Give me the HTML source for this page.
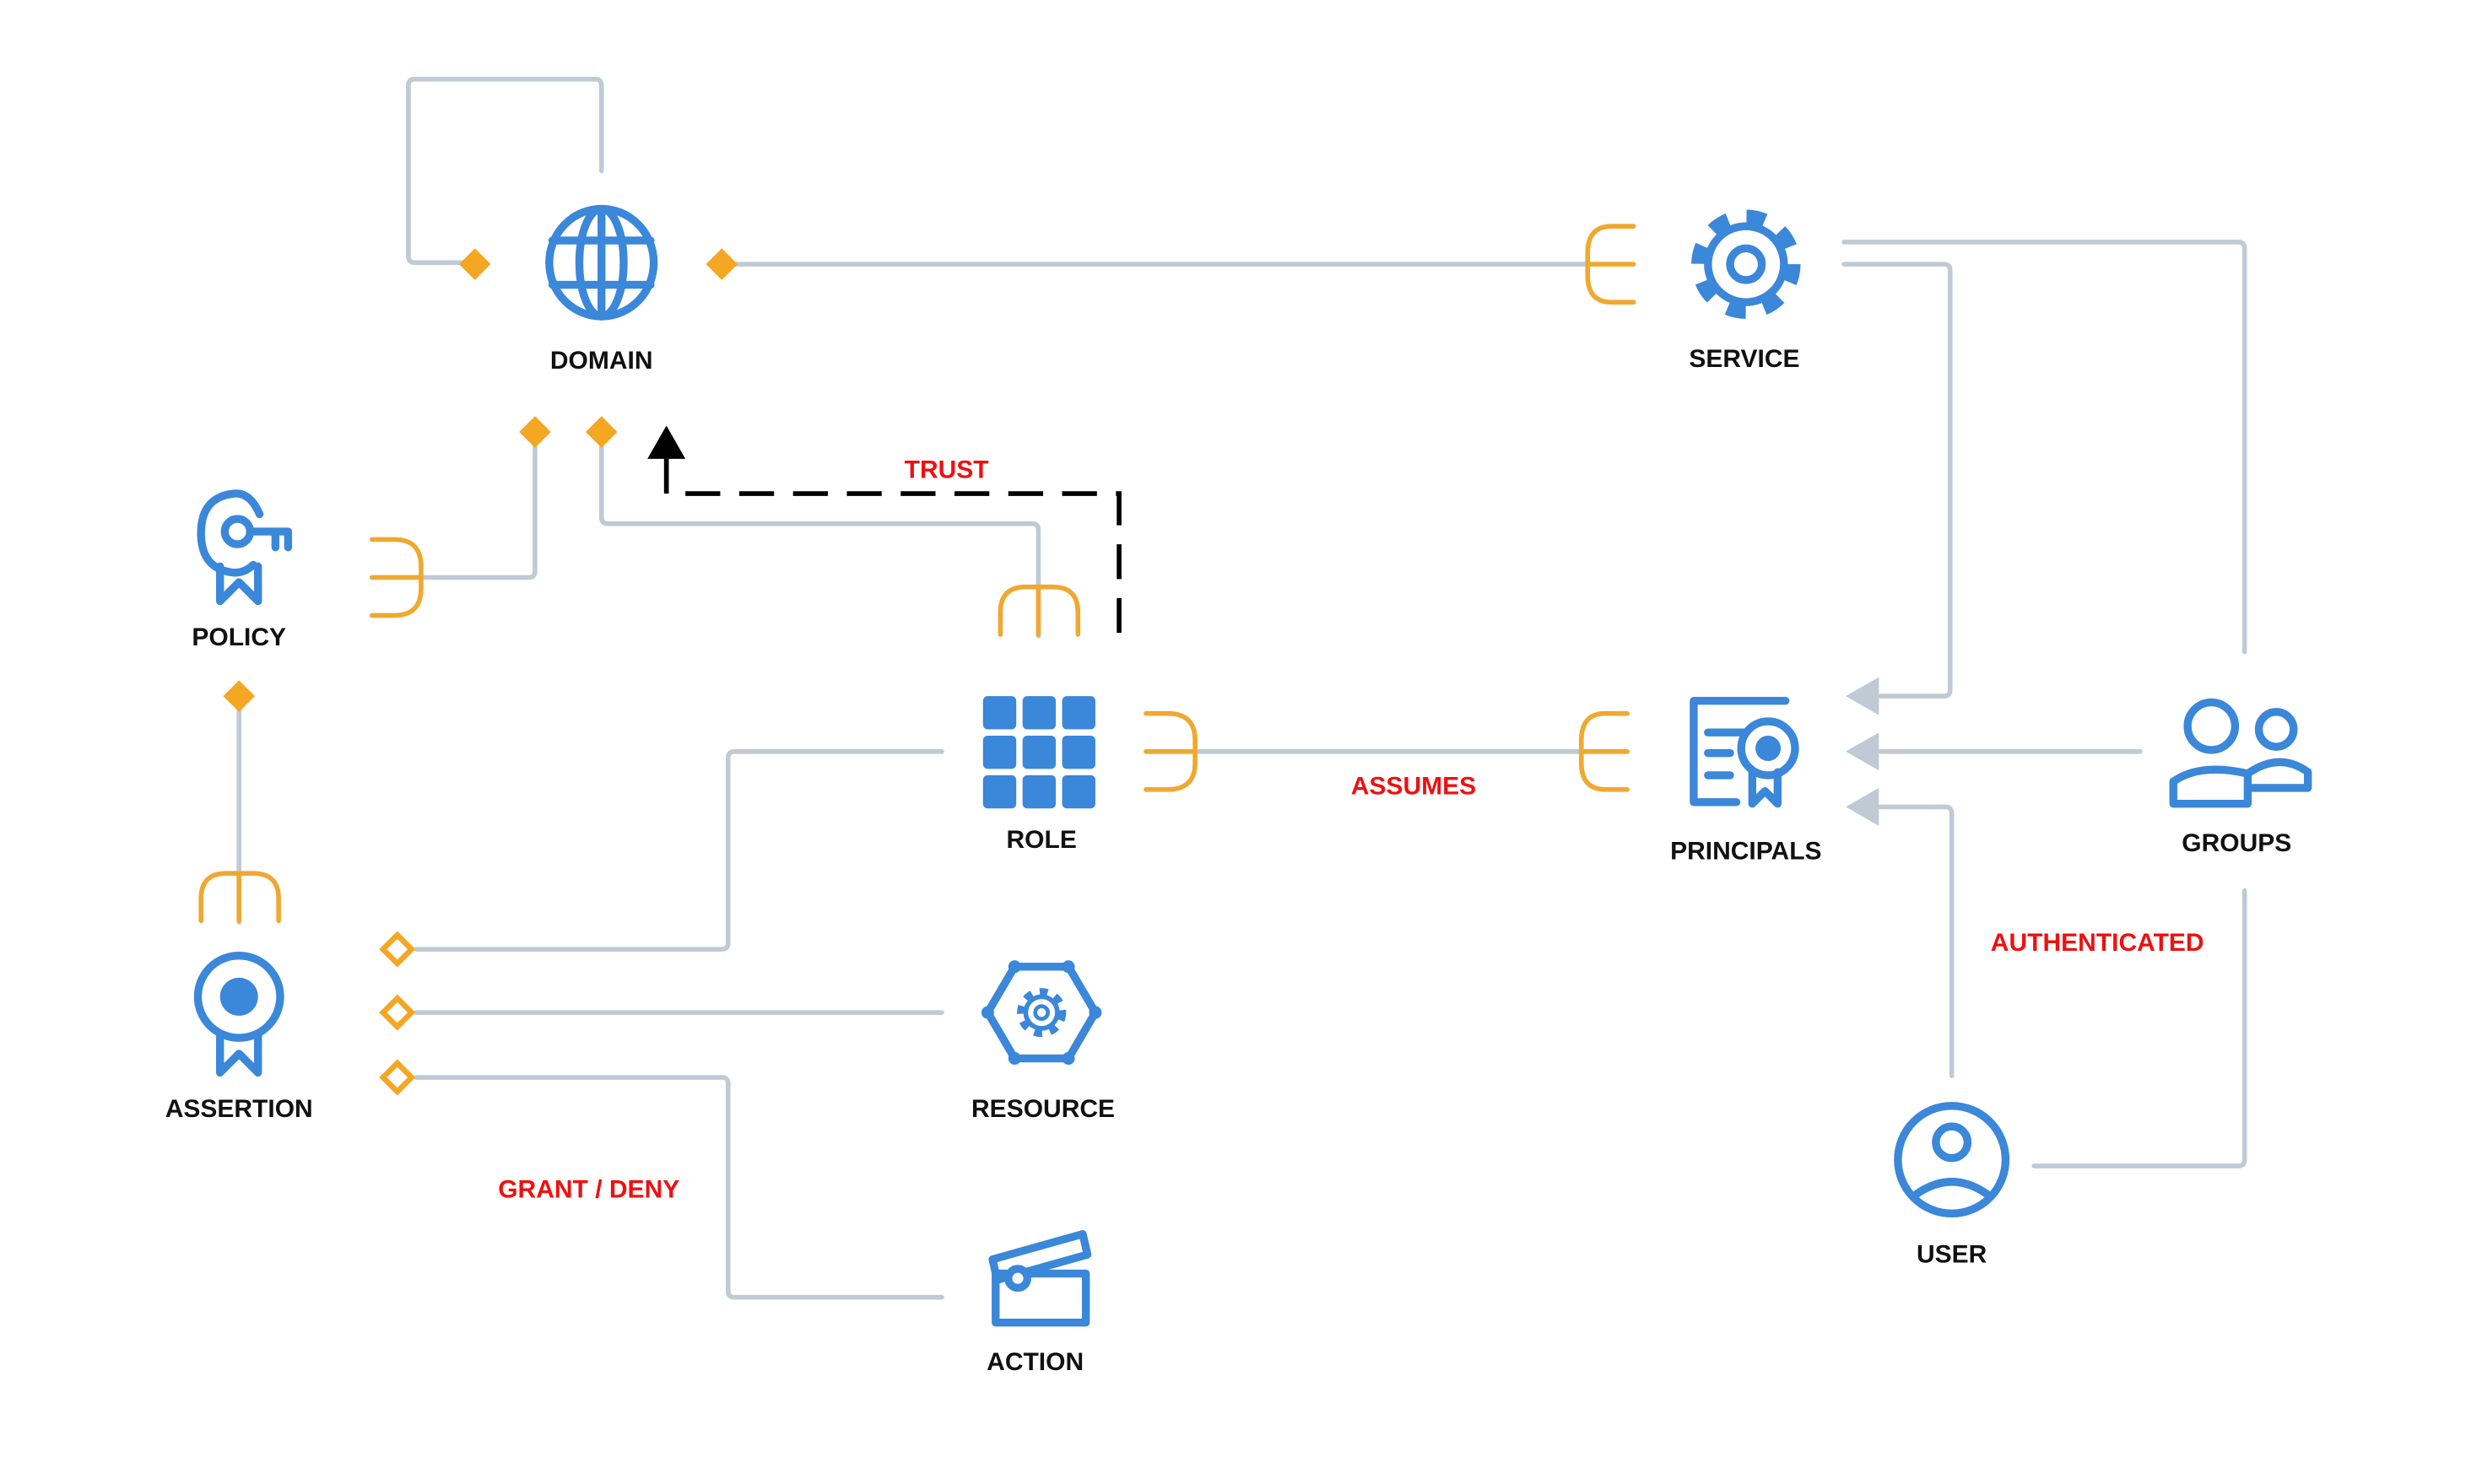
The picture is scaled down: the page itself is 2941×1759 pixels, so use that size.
<!DOCTYPE html>
<html><head><meta charset="utf-8"><style>
html,body{margin:0;padding:0;background:#fff;}
svg{display:block;}
text{font-family:"Liberation Sans",sans-serif;font-weight:bold;font-size:16px;text-anchor:middle;}
.g{fill:none;stroke:#c0cad5;stroke-width:3;stroke-linecap:round;stroke-linejoin:round;}
.o{fill:none;stroke:#f0a830;stroke-width:3;stroke-linecap:round;}
.b{fill:none;stroke:#3b87d9;stroke-width:5;stroke-linecap:round;stroke-linejoin:round;}
.lbl{fill:#111;}
.red{fill:#ee1111;}
</style></head><body>
<svg width="2941" height="1759" viewBox="0 0 1568 938" preserveAspectRatio="none" xmlns="http://www.w3.org/2000/svg">
<path class="g" d="M380 108 V54 Q380 50 376 50 H262 Q258 50 258 54 V162 Q258 166 262 166 H298"/>
<path class="g" d="M458 167 H1003"/>
<path class="g" d="M1165 153 H1414 Q1418 153 1418 157 V412"/>
<path class="g" d="M1165 167 H1228 Q1232 167 1232 171 V436 Q1232 440 1228 440 H1188"/>
<path class="g" d="M1352 475 H1188"/>
<path class="g" d="M1233 680 V514 Q1233 510 1229 510 H1188"/>
<path class="g" d="M1285 737 H1414 Q1418 737 1418 733 V563"/>
<path class="g" d="M756 475 H998"/>
<path class="g" d="M656 402 V335 Q656 331 652 331 H384 Q380 331 380 327 V275"/>
<path class="g" d="M338 275 V361 Q338 365 334 365 H266"/>
<path class="g" d="M151 442 V583"/>
<path class="g" d="M263 600 H456 Q460 600 460 596 V479 Q460 475 464 475 H595"/>
<path class="g" d="M263 640 H595"/>
<path class="g" d="M263 681 H456 Q460 681 460 685 V816 Q460 820 464 820 H595"/>
<polygon points="1166,440 1187,428 1187,452" fill="#c0cad5"/>
<polygon points="1166,475 1187,463 1187,487" fill="#c0cad5"/>
<polygon points="1166,510 1187,498 1187,522" fill="#c0cad5"/>
<path d="M707 400 V312 H421 V290" fill="none" stroke="#000" stroke-width="3" stroke-dasharray="22,12"/>
<polygon points="421,269 409,290 433,290" fill="#000"/>
<g fill="#f5a623">
<polygon points="300,157 310,167 300,177 290,167"/>
<polygon points="456,157 466,167 456,177 446,167"/>
<polygon points="338,263 348,273 338,283 328,273"/>
<polygon points="380,263 390,273 380,283 370,273"/>
<polygon points="151,430 161,440 151,450 141,440"/>
</g>
<g fill="#fff" stroke="#f5a623" stroke-width="3.5">
<polygon points="251,591 260,600 251,609 242,600"/>
<polygon points="251,631 260,640 251,649 242,640"/>
<polygon points="251,672 260,681 251,690 242,681"/>
</g>
<path class="o" d="M1032 143 H1018 Q1003 143 1003 160 V174 Q1003 191 1018 191 H1032 M1003 167 H1032"/>
<path class="o" d="M1028 451 H1014 Q999 451 999 468 V482 Q999 499 1014 499 H1028 M999 475 H1028"/>
<path class="o" d="M724 451 H738 Q755 451 755 468 V482 Q755 499 738 499 H724 M724 475 H755"/>
<path class="o" d="M235 341 H249 Q266 341 266 358 V372 Q266 389 249 389 H235 M235 365 H266"/>
<path class="o" d="M632 401 V387 Q632 371 648 371 H665 Q681 371 681 387 V401 M656 371 V401"/>
<path class="o" d="M127 582 V568 Q127 552 143 552 H160 Q176 552 176 568 V582 M151 552 V582"/>
<g class="b">
<ellipse cx="380" cy="166" rx="33" ry="34"/>
<ellipse cx="380" cy="166" rx="14" ry="34"/>
<path d="M380 132 V200 M349 152 H411 M349 180 H411"/>
</g>
<g>
<circle cx="1103" cy="167" r="30" fill="none" stroke="#3b87d9" stroke-width="9" stroke-dasharray="11.8,11.8"/>
<circle cx="1103" cy="167" r="24" fill="#fff" stroke="#3b87d9" stroke-width="5"/>
<circle cx="1103" cy="167" r="10" fill="none" stroke="#3b87d9" stroke-width="5"/>
</g>
<g class="b">
<path d="M1128 443 H1070 V507 H1097"/>
<path d="M1079 463 H1102 M1079 476 H1093 M1079 490 H1093"/>
<circle cx="1117" cy="473" r="17"/>
<path d="M1107 488 V508 L1115 500 L1123 508 V488"/>
</g>
<circle cx="1117" cy="473" r="8" fill="#3b87d9"/>
<g class="b">
<circle cx="1397" cy="459" r="15"/>
<circle cx="1438" cy="461" r="11"/>
<path d="M1373 508 V494 Q1390 482 1420 489 V508 Z"/>
<path d="M1420 489 Q1440 475 1458 488 V498 H1420"/>
</g>
<g class="b">
<circle cx="1233" cy="733" r="34"/>
<circle cx="1233" cy="722" r="10"/>
<path d="M1209 756 Q1233 738 1257 756"/>
</g>
<g fill="#3b87d9">
<rect x="621" y="440" width="21" height="21" rx="3"/><rect x="646" y="440" width="21" height="21" rx="3"/><rect x="671" y="440" width="21" height="21" rx="3"/>
<rect x="621" y="465" width="21" height="21" rx="3"/><rect x="646" y="465" width="21" height="21" rx="3"/><rect x="671" y="465" width="21" height="21" rx="3"/>
<rect x="621" y="490" width="21" height="21" rx="3"/><rect x="646" y="490" width="21" height="21" rx="3"/><rect x="671" y="490" width="21" height="21" rx="3"/>
</g>
<g class="b">
<path d="M164 325 Q158 311 148 312 Q127 314 127 337 Q127 360 148 362 Q155 362 160 357"/>
<circle cx="150" cy="336" r="8"/>
<path d="M158 336 H182 V346 M174 336 V346"/>
<path d="M139 358 V380 L151 368 L163 380 V358"/>
</g>
<g class="b">
<circle cx="151" cy="630" r="26"/>
<path d="M139 654 V678 L151 666 L163 678 V654"/>
</g>
<circle cx="151" cy="630" r="12" fill="#3b87d9"/>
<g class="b" stroke-width="4">
<polygon points="641,611 675,611 692,640 675,669 641,669 624,640"/>
</g>
<g fill="#3b87d9"><circle cx="641" cy="611" r="4"/><circle cx="675" cy="611" r="4"/><circle cx="692" cy="640" r="4"/><circle cx="675" cy="669" r="4"/><circle cx="641" cy="669" r="4"/><circle cx="624" cy="640" r="4"/></g>
<circle cx="658" cy="640" r="13" fill="none" stroke="#3b87d9" stroke-width="5" stroke-dasharray="5,5"/>
<circle cx="658" cy="640" r="10" fill="#fff" stroke="#3b87d9" stroke-width="3"/>
<circle cx="658" cy="640" r="4" fill="none" stroke="#3b87d9" stroke-width="2.5"/>
<g class="b">
<rect x="629" y="805" width="57" height="31"/>
<path d="M627 796 L684 780 L687 793 L630 809 Z"/>
<circle cx="643" cy="808" r="6" fill="#fff"/>
</g>
<text class="lbl" x="380" y="233">DOMAIN</text>
<text class="lbl" x="1102" y="232">SERVICE</text>
<text class="lbl" x="151" y="408">POLICY</text>
<text class="lbl" x="658" y="536">ROLE</text>
<text class="lbl" x="1103" y="543">PRINCIPALS</text>
<text class="lbl" x="1413" y="538">GROUPS</text>
<text class="lbl" x="151" y="706">ASSERTION</text>
<text class="lbl" x="659" y="706">RESOURCE</text>
<text class="lbl" x="654" y="866">ACTION</text>
<text class="lbl" x="1233" y="798">USER</text>
<text class="red" x="598" y="302">TRUST</text>
<text class="red" x="893" y="502">ASSUMES</text>
<text class="red" x="1325" y="601">AUTHENTICATED</text>
<text class="red" x="372" y="757">GRANT / DENY</text>
</svg>
</body></html>
